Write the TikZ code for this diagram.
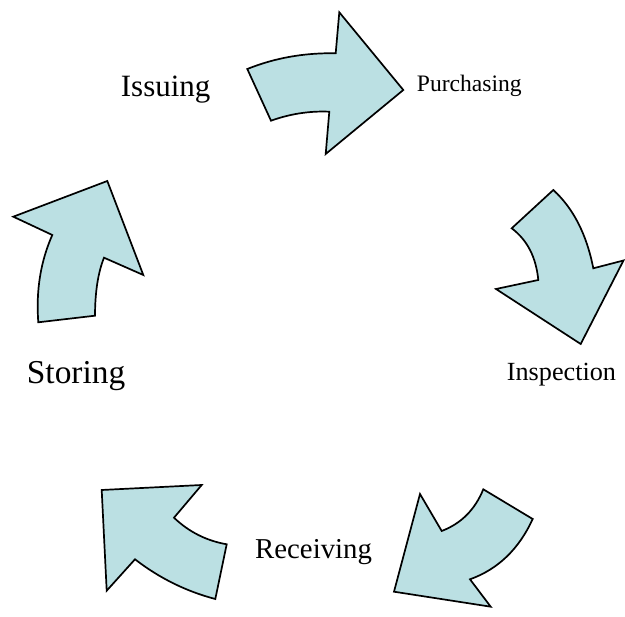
\documentclass[tikz,border=0pt]{standalone}
\usepackage{fontspec}
\setmainfont{Liberation Serif}
\usetikzlibrary{calc}
\definecolor{arrowfill}{RGB}{187,224,227}
\tikzset{
  blockarrow/.style={draw=black, fill=arrowfill, line width=1.7pt, line join=miter},
  lbl/.style={inner sep=0pt, anchor=base west, text=black}
}
% quadratic-like curve: \qc{start}{control}{end}
\newcommand{\qc}[3]{.. controls ($(#1)!0.6667!(#2)$) and ($(#3)!0.6667!(#2)$) .. (#3)}
\begin{document}
\begin{tikzpicture}[x=1pt,y=-1pt]
\useasboundingbox (0,0) rectangle (625,617);
% Issuing -> Purchasing
\draw[blockarrow] (247.3,69) \qc{247.3,69}{288.5,52.4}{335.7,53.3} -- (339.3,12.3) -- (403.3,90) -- (325.7,154) -- (329.3,111.7) \qc{329.3,111.7}{299.8,110.4}{271,120.7} -- cycle;
% Purchasing -> Inspection
\draw[blockarrow] (553.3,190) \qc{553.3,190}{583.3,217.4}{593.3,268.3} -- (623.5,260.5) -- (580.7,344) -- (496,289) -- (538.3,280) \qc{538.3,280}{535,245.8}{511.7,228.3} -- cycle;
% Inspection -> Receiving
\draw[blockarrow] (483.3,489.3) -- (532.7,519) \qc{532.7,519}{512,564.2}{470,579.3} -- (490.7,606.7) -- (394,591.7) -- (420,494) -- (441.7,531) \qc{441.7,531}{470.9,519.8}{483.3,489.3} -- cycle;
% Receiving -> Storing
\draw[blockarrow] (101.7,490) -- (201.7,485) -- (174,517.7) \qc{174,517.7}{196.3,539}{226.7,544.3} -- (215.3,599) \qc{215.3,599}{171.5,587.5}{135,559.3} -- (106.7,590.7) -- cycle;
% Storing -> Issuing
\draw[blockarrow] (107.3,181) -- (143.3,275) -- (104,257.7) \qc{104,257.7}{95.1,280}{95,315.7} -- (38.3,322.3) \qc{38.3,322.3}{34.7,274.7}{52.3,235} -- (13.3,216.7) -- cycle;
% labels
\node[lbl, font=\fontsize{31}{36}\selectfont] (issuing) at (120.7,96.7) {Issuing};
\node[lbl, font=\fontsize{23.6}{28}\selectfont] (purchasing) at (416.7,91.7) {Purchasing};
\node[lbl, font=\fontsize{26.2}{31}\selectfont] (inspection) at (506.7,381) {Inspection};
\node[lbl, font=\fontsize{28.8}{34}\selectfont] (receiving) at (255,558.3) {Receiving};
\node[lbl, font=\fontsize{33.4}{39}\selectfont] (storing) at (26.7,383.3) {Storing};
\end{tikzpicture}
\end{document}
